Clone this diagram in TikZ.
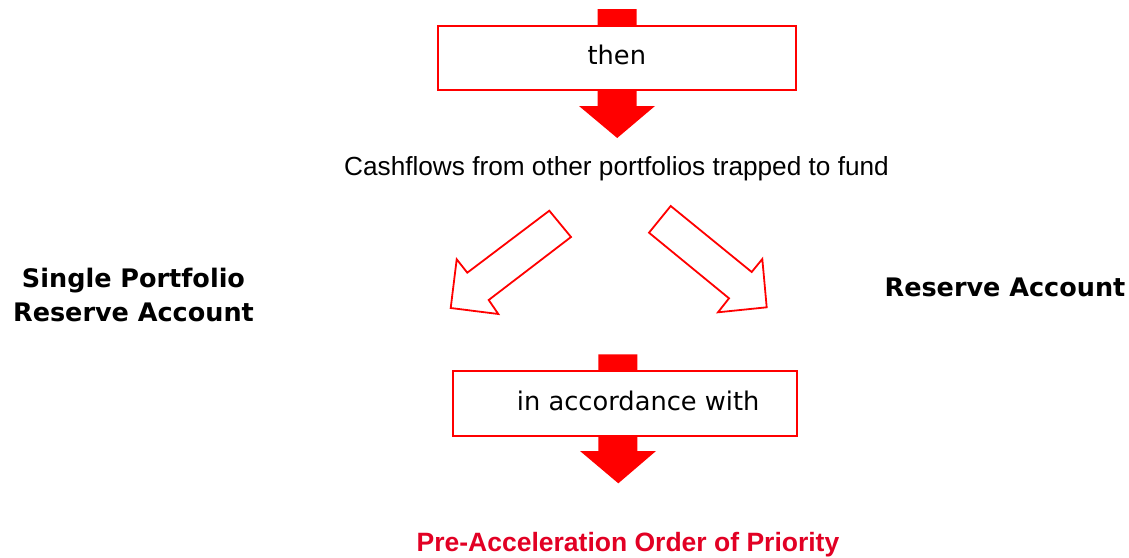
\documentclass[tikz,border=0pt]{standalone}
\usepackage{fontspec}
\setmainfont{Liberation Sans}
\newfontfamily\boxfont{DejaVu Sans}
\definecolor{flowred}{RGB}{255,0,0}
\definecolor{titlered}{RGB}{226,0,36}
\begin{document}
\begin{tikzpicture}[x=1pt,y=-1pt,
  blockarrow/.style={fill=flowred,draw=none},
  outlinearrow/.style={draw=flowred,line width=1.8pt,fill=white,line join=miter},
  stagebox/.style={draw=flowred,line width=1.8pt,fill=white,rectangle,inner sep=0pt,
    text height=19pt,text depth=5pt,font=\boxfont\fontsize{25.7}{30}\selectfont},
  sidelabel/.style={font=\boxfont\bfseries\fontsize{25.5}{34}\selectfont,align=center,anchor=base,inner sep=0pt}]
\useasboundingbox[fill=white] (0,0) rectangle (1129,557);

% upper down-arrow, drawn behind its box
\fill[blockarrow] (597.7,9) -- (636.7,9) -- (636.7,106) -- (655,106) -- (617.2,138)
  -- (579,106) -- (597.7,106) -- cycle;
\node[stagebox,minimum width=358pt,minimum height=64.3pt] (then) at (616.85,57.85) {then};

% main statement
\node[anchor=base,inner sep=0pt,font=\fontsize{26.2}{30}\selectfont] (cash) at (616.5,175.7)
  {Cashflows from other portfolios trapped to fund};

% outlined arrows splitting left and right
\draw[outlinearrow] (549.3,210.7) -- (571,237) -- (488.7,300) -- (498.3,314)
  -- (450.7,308) -- (456.7,259.3) -- (467.3,272.7) -- cycle;
\draw[outlinearrow] (670.7,206) -- (649,232.7) -- (729,298.3) -- (718,312.3)
  -- (766.7,307.3) -- (762.3,259) -- (751.7,272) -- cycle;

% the two reserve accounts (base anchor sits on the last line)
\node[sidelabel] (single) at (133.5,321) {Single Portfolio\\Reserve Account};
\node[sidelabel] (reserve) at (1005,296.7) {Reserve Account};

% lower down-arrow, drawn behind its box
\fill[blockarrow] (598.3,354.3) -- (637.3,354.3) -- (637.3,451) -- (656,451) -- (618.3,483.3)
  -- (580,451) -- (598.3,451) -- cycle;
\node[stagebox,minimum width=344pt,minimum height=64.7pt] (accord) at (624.7,403.3)
  {\hspace{27pt}in accordance with};

% order of priority
\node[anchor=base,inner sep=0pt,text=titlered,font=\bfseries\fontsize{26.5}{30}\selectfont]
  (priority) at (628,551.7) {Pre-Acceleration Order of Priority};
\end{tikzpicture}
\end{document}
